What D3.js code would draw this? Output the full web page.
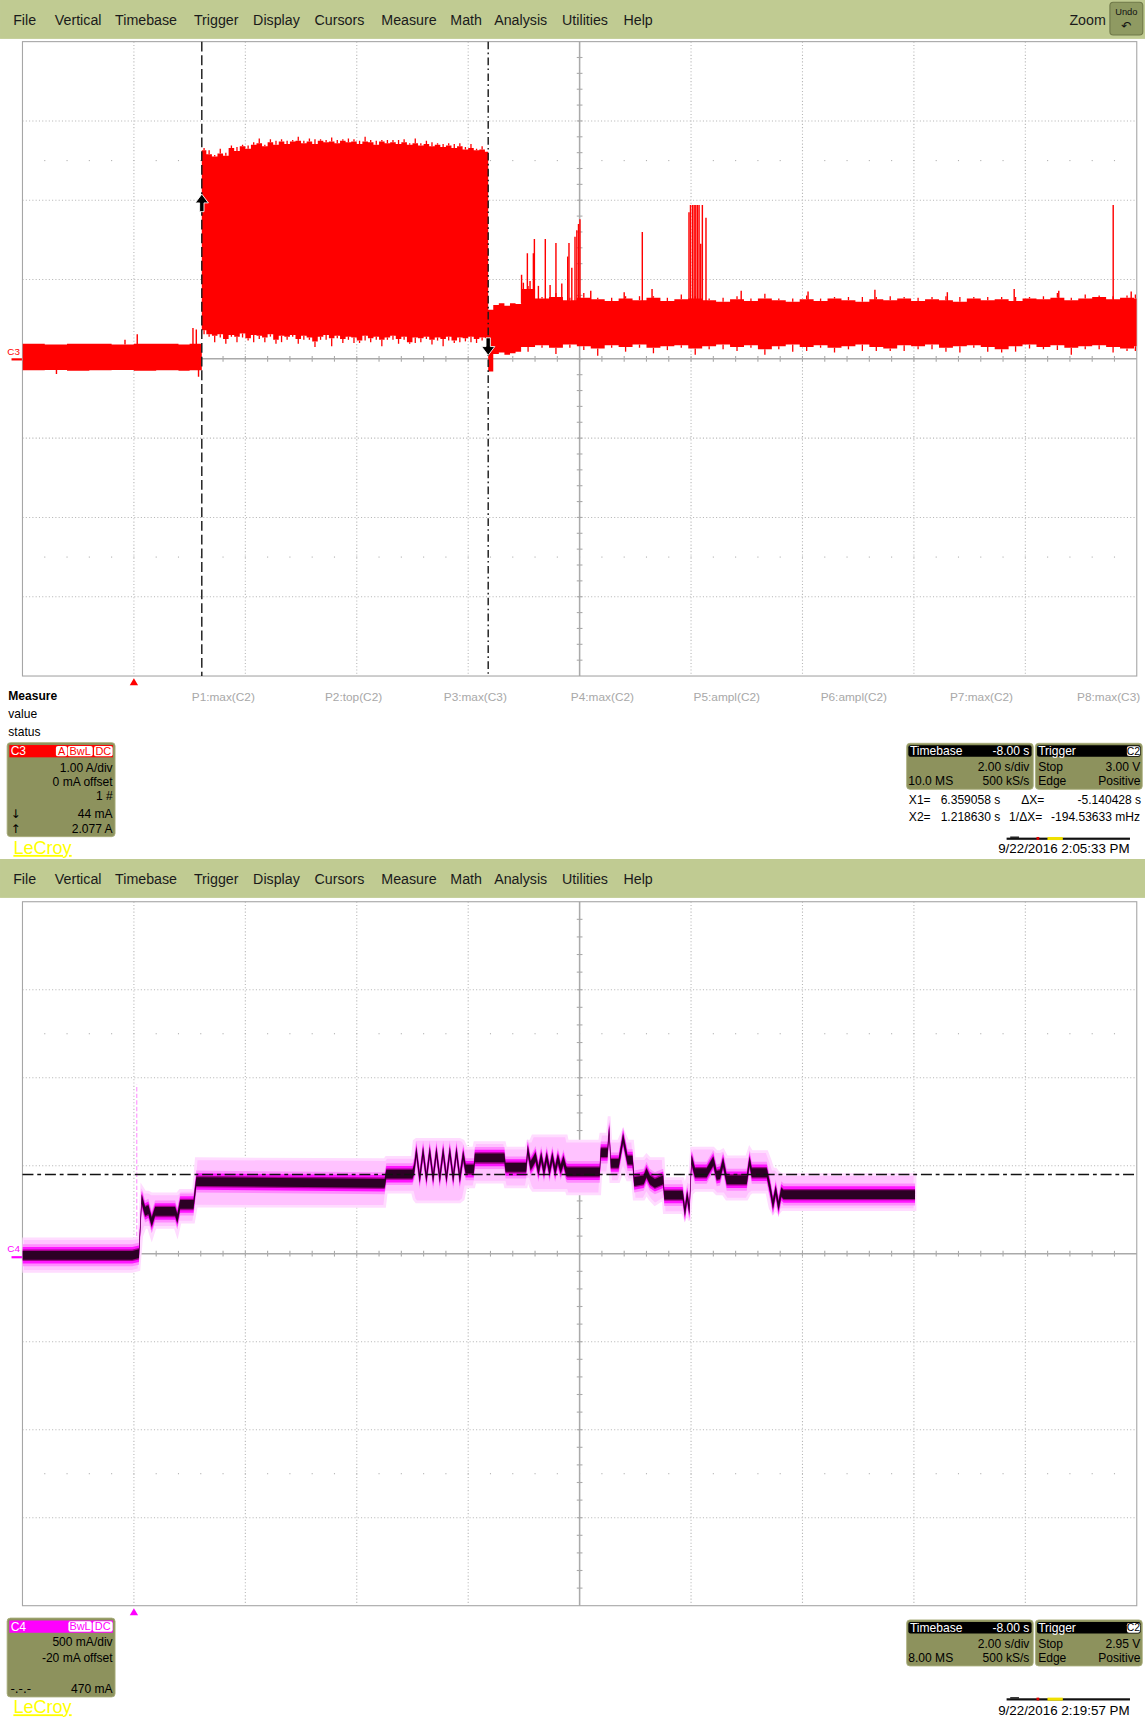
<!DOCTYPE html>
<html><head><meta charset="utf-8">
<script src="https://cdn.jsdelivr.net/npm/d3@7"></script>
<style>html,body{margin:0;padding:0;background:#fff;overflow:hidden}svg{display:block}</style>
</head><body><svg id="c"></svg>
<script>
// ================= DATA =================
const menuItems = ["File","Vertical","Timebase","Trigger","Display","Cursors","Measure","Math","Analysis","Utilities","Help"];
const measureParams = ["P1:max(C2)","P2:top(C2)","P3:max(C3)","P4:max(C2)","P5:ampl(C2)","P6:ampl(C2)","P7:max(C2)","P8:max(C3)"];
const measureRows = ["value","status"];

const timeDomain = [-2, 18];          // s : -8.00 s delay, 2.00 s/div, 10 div
const timeDivs = [-2,0,2,4,6,8,10,12,14,16,18];
const c3Domain = [-4, 4];             // A : 1.00 A/div, 0 mA offset
const c3Divs = [-4,-3,-2,-1,0,1,2,3,4];
const c4Domain = [-1.98, 2.02];       // A : 500 mA/div, -20 mA offset
const c4Divs = [-1.98,-1.48,-0.98,-0.48,0.02,0.52,1.02,1.52,2.02];
const cursorX1 = 6.359058, cursorX2 = 1.218630;
const cursorLo = 0.044, cursorHi = 2.077;
const c4TrigLevel = 0.47;
const triggerTime = 0;

// C3 envelope (A)
const c3aTime = [-2.0,-1.6,-1.2,-0.8,-0.4,0.0,0.4,0.8,1.0];
const c3aMax  = [0.19,0.18,0.19,0.19,0.18,0.19,0.19,0.18,0.19];
const c3aMin  = [-0.145,-0.14,-0.15,-0.145,-0.14,-0.15,-0.145,-0.15,-0.145];
const c3bTime = [1.2186,1.3,1.4,1.5,1.6,1.7,1.8,1.9,2.0,2.1,2.2,2.3,2.4,2.5,2.6,2.7,2.8,2.9,3.0,3.1,3.2,3.3,3.4,3.5,3.6,3.7,3.8,3.9,4.0,4.1,4.2,4.3,4.4,4.5,4.6,4.7,4.8,4.9,5.0,5.1,5.2,5.3,5.4,5.5,5.6,5.7,5.8,5.9,6.0,6.1,6.2,6.3];
const c3bMax  = [2.63,2.58,2.55,2.59,2.56,2.66,2.62,2.68,2.65,2.70,2.72,2.68,2.73,2.70,2.74,2.71,2.74,2.75,2.72,2.74,2.71,2.75,2.73,2.74,2.72,2.75,2.73,2.74,2.71,2.74,2.73,2.70,2.74,2.72,2.73,2.71,2.73,2.70,2.72,2.69,2.71,2.68,2.70,2.67,2.69,2.66,2.68,2.64,2.66,2.63,2.64,2.61];
const c3bMin  = [0.36,0.31,0.29,0.31,0.25,0.30,0.28,0.32,0.26,0.30,0.29,0.27,0.31,0.24,0.29,0.28,0.30,0.25,0.29,0.27,0.22,0.28,0.30,0.26,0.29,0.25,0.28,0.27,0.23,0.29,0.26,0.28,0.24,0.27,0.29,0.25,0.28,0.21,0.27,0.26,0.28,0.24,0.27,0.25,0.28,0.23,0.27,0.26,0.28,0.25,0.27,0.26];
// noise fringe (A) above the top / below the bottom of the band, one per sample interval
const c3bTopFringe = [0.03,0.05,0.02,0.06,0.04,0.03,0.05,0.02,0.04,0.03,0.06,0.02,0.04,0.05,0.03,0.04,0.02,0.05,0.03,0.04,0.06,0.02,0.03,0.05,0.04,0.02,0.05,0.03,0.04,0.06,0.03,0.05,0.02,0.04,0.03,0.05,0.04,0.02,0.06,0.03,0.04,0.05,0.02,0.04,0.03,0.05,0.04,0.03,0.05,0.02,0.04];
const c3bBotFringe = [0.05,0.03,0.08,0.04,0.06,0.02,0.07,0.05,0.03,0.09,0.04,0.06,0.03,0.05,0.08,0.04,0.02,0.06,0.05,0.03,0.07,0.04,0.06,0.10,0.03,0.05,0.04,0.07,0.03,0.06,0.05,0.04,0.08,0.03,0.05,0.06,0.04,0.02,0.07,0.05,0.03,0.06,0.04,0.09,0.05,0.03,0.06,0.04,0.07,0.05,0.04];
const c3cTime = [6.359,6.45,6.55,6.65,6.75,6.85];
const c3cMax  = [0.62,0.68,0.70,0.67,0.70,0.69];
const c3cMin  = [-0.16,0.06,0.08,0.05,0.07,0.09];
const c3dTime = [6.95,7.2,7.45,7.7,7.95,8.2,8.45,8.7,8.95,9.2,9.45,9.7,9.95,10.2,10.45,10.7,10.95,11.2,11.45,11.7,11.95,12.2,12.45,12.7,12.95,13.2,13.45,13.7,13.95,14.2,14.45,14.7,14.95,15.2,15.45,15.7,15.95,16.2,16.45,16.7,16.95,17.2,17.45,17.7,17.95,18.0];
const c3dMax  = [0.88,0.76,0.78,0.74,0.77,0.75,0.73,0.76,0.74,0.77,0.73,0.75,0.76,0.74,0.72,0.75,0.73,0.76,0.74,0.72,0.75,0.73,0.76,0.74,0.72,0.75,0.74,0.76,0.73,0.75,0.74,0.72,0.76,0.74,0.75,0.73,0.76,0.75,0.77,0.74,0.76,0.78,0.75,0.77,0.76,0.76];
const c3dMin  = [0.15,0.17,0.14,0.18,0.16,0.13,0.17,0.15,0.18,0.14,0.16,0.17,0.13,0.16,0.18,0.15,0.17,0.12,0.16,0.18,0.15,0.17,0.14,0.16,0.18,0.15,0.13,0.17,0.16,0.18,0.14,0.16,0.17,0.15,0.12,0.16,0.18,0.15,0.17,0.14,0.16,0.17,0.15,0.13,0.16,0.16];
const c3dTopFringe = [0.04,0.02,0.05,0.03,0.06,0.02,0.04,0.03,0.05,0.02,0.04,0.06,0.03,0.02,0.05,0.04,0.03,0.06,0.02,0.04,0.05,0.03,0.02,0.04,0.06,0.03,0.05,0.02,0.04,0.03,0.05,0.06,0.02,0.04,0.03,0.05,0.02,0.04,0.06,0.03,0.05,0.02,0.04,0.03,0.05];
const c3dBotFringe = [0.06,0.03,0.08,0.04,0.05,0.09,0.03,0.06,0.04,0.07,0.05,0.03,0.08,0.04,0.06,0.05,0.03,0.07,0.04,0.09,0.05,0.03,0.06,0.04,0.08,0.05,0.03,0.07,0.04,0.06,0.05,0.08,0.03,0.06,0.04,0.07,0.05,0.03,0.06,0.09,0.04,0.05,0.07,0.03,0.06];
// C3 glitches: time (s), from (A), to (A)
const c3SpikeTime = [-1.39,-0.16,0.06,1.06,1.12,1.16, 6.958,6.99,7.062,7.11,7.170,7.188,7.26,7.384,7.47,7.575,7.68,7.786,7.809,7.86,7.917,7.95,7.98,8.006,8.2,8.8,9.125,9.3, 9.963,9.99,10.026,10.056,10.085,10.115,10.144,10.174,10.203,10.268, 10.9,12.1,13.3,14.6,15.8,16.6,17.577,17.9];
const c3SpikeFrom = [-0.19,0.18,0.18,0.18,0.18,-0.225, 0.7,0.7,0.7,0.7,0.7,0.7,0.7,0.7,0.7,0.7,0.7,0.7,0.7,0.7,0.7,0.7,0.7,0.7,0.7,0.7,0.7,0.7, 0.7,0.7,0.7,0.7,0.7,0.7,0.7,0.7,0.7,0.7, 0.7,0.7,0.7,0.7,0.7,0.7,0.7,0.7];
const c3SpikeTo   = [-0.14,0.24,0.31,0.39,0.37,-0.14, 1.06,0.96,1.33,0.98,1.33,1.51,0.92,1.51,0.93,1.46,0.95,1.29,1.46,1.15,1.54,1.62,1.70,1.76,0.86,0.84,1.60,0.88, 1.85,1.94,1.94,1.94,1.94,1.94,1.94,1.45,1.94,1.78, 0.86,0.85,0.87,0.84,0.88,0.86,1.94,0.85];

// C4 persistence trace: time (s), most-frequent level, envelope top, envelope bottom (A)
const c4Time = [-2.00,-0.03,0.09,0.14,0.20,0.26,0.32,0.38,0.74,0.78,0.83,1.07,1.12,
  4.50,4.53,5.00,
  5.03,5.07,5.13,5.19,5.25,5.31,5.37,5.43,5.49,5.55,5.61,5.67,5.73,5.79,5.85,5.91,5.955,
  5.96,6.10,6.12,6.65,6.67,7.04,7.07,7.12,
  7.16,7.21,7.26,7.31,7.36,7.41,7.46,7.51,7.56,7.61,7.66,7.71,7.76,
  7.78,8.36,8.38,8.50,8.53,8.56,8.70,8.78,8.86,8.95,8.98,9.15,
  9.20,9.26,9.35,9.50,9.52,9.85,9.89,9.93,9.97,10.01,10.07,10.28,
  10.40,10.46,10.52,10.575,10.64,11.00,11.05,11.09,11.36,11.42,11.47,11.52,11.57,11.62,11.66,14.02];
const c4Mid = [0.011,0.011,0.02,0.33,0.26,0.27,0.20,0.26,0.26,0.22,0.30,0.30,0.43,
  0.42,0.472,0.472,
  0.50,0.60,0.45,0.60,0.45,0.60,0.45,0.60,0.45,0.60,0.45,0.60,0.45,0.60,0.45,0.58,0.50,
  0.50,0.50,0.564,0.564,0.51,0.51,0.61,0.52,
  0.54,0.57,0.49,0.57,0.49,0.57,0.49,0.57,0.49,0.56,0.50,0.55,0.49,
  0.485,0.485,0.595,0.595,0.72,0.533,0.533,0.676,0.552,0.552,0.43,0.44,
  0.48,0.44,0.42,0.44,0.353,0.353,0.26,0.35,0.27,0.554,0.48,0.48,
  0.546,0.465,0.47,0.539,0.44,0.44,0.546,0.48,0.48,0.39,0.30,0.38,0.29,0.37,0.356,0.356];
const c4Hi = [0.105,0.105,0.11,0.40,0.37,0.37,0.36,0.36,0.36,0.36,0.38,0.38,0.56,
  0.554,0.567,0.567,
  0.66,0.67,0.67,0.67,0.67,0.67,0.67,0.67,0.67,0.67,0.67,0.67,0.67,0.67,0.67,0.66,0.63,
  0.62,0.62,0.651,0.651,0.62,0.62,0.66,0.66,
  0.69,0.69,0.69,0.69,0.69,0.69,0.69,0.69,0.69,0.69,0.69,0.69,0.69,
  0.66,0.66,0.70,0.70,0.80,0.66,0.66,0.72,0.66,0.66,0.56,0.56,
  0.58,0.56,0.56,0.56,0.446,0.446,0.40,0.45,0.42,0.62,0.62,0.62,
  0.62,0.60,0.60,0.61,0.57,0.57,0.62,0.60,0.60,0.55,0.50,0.50,0.48,0.47,0.469,0.469];
const c4Lo = [-0.080,-0.080,-0.07,0.12,0.17,0.17,0.11,0.17,0.17,0.13,0.20,0.20,0.29,
  0.289,0.37,0.37,
  0.33,0.315,0.315,0.315,0.315,0.315,0.315,0.315,0.315,0.315,0.315,0.315,0.315,0.315,0.315,0.33,0.40,
  0.40,0.40,0.427,0.427,0.40,0.40,0.45,0.40,
  0.38,0.38,0.38,0.38,0.38,0.38,0.38,0.38,0.38,0.38,0.38,0.38,0.38,
  0.36,0.36,0.48,0.48,0.55,0.43,0.43,0.50,0.44,0.44,0.33,0.33,
  0.36,0.33,0.30,0.33,0.253,0.253,0.22,0.25,0.21,0.36,0.38,0.38,
  0.38,0.36,0.36,0.36,0.33,0.33,0.36,0.37,0.37,0.28,0.25,0.27,0.25,0.27,0.270,0.270];
const c4Glitch = {t:0.05, from:0.12, to:0.98};

// ================= DRAWING =================
const W = 1045, H = 1568;
const FONT = "'Liberation Sans', Arial, Helvetica, sans-serif";
const svg = d3.select("#c").attr("width",1145).attr("height",1718).attr("viewBox",`0 0 ${W} ${H}`)
  .style("font-family",FONT);

const MENU_BG = "#c0cb92", BOX = "#8d925d", BOXSTROKE = "#a9ae7b";
const P1 = {x0:20.5, x1:1037.5, y0:38, y1:617};
const P2 = {x0:20.5, x1:1037.5, y0:823, y1:1465.5};
const x = d3.scaleLinear().domain(timeDomain).range([P1.x0, P1.x1]);
const y1 = d3.scaleLinear().domain(c3Domain).range([P1.y1, P1.y0]);
const y2 = d3.scaleLinear().domain(c4Domain).range([P2.y1, P2.y0]);

function text(g, s, tx, ty, opt={}) {
  const t = g.append("text").attr("x",tx).attr("y",ty).text(s)
    .attr("font-size",opt.size||11).attr("fill",opt.fill||"#000");
  if (opt.anchor) t.attr("text-anchor",opt.anchor);
  if (opt.weight) t.attr("font-weight",opt.weight);
  if (opt.family) t.attr("font-family",opt.family);
  if (opt.deco) t.attr("text-decoration",opt.deco);
  return t;
}

const menuX = [12,50,105,177,231,287,348,411,451,513,569];
function drawMenu(y0, full) {
  const g = svg.append("g");
  g.append("rect").attr("x",0).attr("y",y0).attr("width",W).attr("height",35.5).attr("fill",MENU_BG);
  menuItems.forEach((m,i)=>text(g,m,menuX[i],y0+22.5,{size:13,fill:"#1a1a1a"}));
  if (full) {
    text(g,"Zoom",976,y0+23,{size:13,fill:"#1a1a1a"});
    g.append("rect").attr("x",1013).attr("y",y0+2).attr("width",30).attr("height",30).attr("rx",3)
      .attr("fill","#8f9a62").attr("stroke","#6f7848").attr("stroke-width",1);
    text(g,"Undo",1028,y0+13.5,{size:8.5,anchor:"middle",fill:"#111"});
    text(g,"\u21B6",1028,y0+27,{size:11,anchor:"middle",fill:"#111",family:"'DejaVu Sans'"});
  }
}

function drawGrid(P, yScale, yDivs) {
  const g = svg.append("g");
  const xc = x(8), yc = yScale(yDivs[4]);
  timeDivs.slice(1,-1).forEach(t=>{ if (t!==8) g.append("line").attr("x1",x(t)).attr("x2",x(t)).attr("y1",P.y0).attr("y2",P.y1)
      .attr("stroke","#b8b8b8").attr("stroke-width",1).attr("stroke-dasharray","1,2"); });
  yDivs.slice(1,-1).forEach((v,i)=>{ if (i!==3) g.append("line").attr("x1",P.x0).attr("x2",P.x1).attr("y1",yScale(v)).attr("y2",yScale(v))
      .attr("stroke","#b8b8b8").attr("stroke-width",1).attr("stroke-dasharray","1,2"); });
  const dv = yDivs[1]-yDivs[0];
  [yDivs[1]+dv*0.5, yDivs[6]+dv*0.5].forEach(v=>{
    d3.range(timeDomain[0]+0.4, timeDomain[1], 0.4).forEach(t=>{
      g.append("rect").attr("x",x(t)-0.5).attr("y",yScale(v)-0.5).attr("width",1).attr("height",1).attr("fill","#b0b0b0");
    });
  });
  g.append("line").attr("x1",P.x0).attr("x2",P.x1).attr("y1",yc).attr("y2",yc).attr("stroke","#aaaaaa").attr("stroke-width",1.4);
  g.append("line").attr("x1",xc).attr("x2",xc).attr("y1",P.y0).attr("y2",P.y1).attr("stroke","#aaaaaa").attr("stroke-width",1.4);
  d3.range(timeDomain[0]+0.4, timeDomain[1], 0.4).forEach(t=>{
    g.append("line").attr("x1",x(t)).attr("x2",x(t)).attr("y1",yc-2.6).attr("y2",yc+2.6).attr("stroke","#aaaaaa").attr("stroke-width",1);
  });
  d3.range(1,40).forEach(k=>{
    const v = yDivs[0] + k*dv/5;
    g.append("line").attr("x1",xc-2.6).attr("x2",xc+2.6).attr("y1",yScale(v)).attr("y2",yScale(v)).attr("stroke","#aaaaaa").attr("stroke-width",1);
  });
  g.append("rect").attr("x",P.x0).attr("y",P.y0).attr("width",P.x1-P.x0).attr("height",P.y1-P.y0)
    .attr("fill","none").attr("stroke","#a6a6a6").attr("stroke-width",1);
}

drawMenu(0, true);
drawMenu(784, false);
drawGrid(P1, y1, c3Divs);
drawGrid(P2, y2, c4Divs);

const defs = svg.append("defs");
defs.append("clipPath").attr("id","clip1").append("rect").attr("x",P1.x0).attr("y",P1.y0).attr("width",P1.x1-P1.x0).attr("height",P1.y1-P1.y0);
defs.append("clipPath").attr("id","clip2").append("rect").attr("x",P2.x0).attr("y",P2.y0).attr("width",P2.x1-P2.x0).attr("height",P2.y1-P2.y0);

// ---- C3 trace ----
function zipEnv(ts, hi, lo){ const n=Math.min(ts.length,hi.length,lo.length); return d3.range(n).map(i=>({t:ts[i],hi:hi[i],lo:lo[i]})); }
const c3Env = [].concat(zipEnv(c3aTime,c3aMax,c3aMin), zipEnv(c3bTime,c3bMax,c3bMin), zipEnv(c3cTime,c3cMax,c3cMin), zipEnv(c3dTime,c3dMax,c3dMin));
const g3 = svg.append("g").attr("clip-path","url(#clip1)");
g3.append("path").datum(c3Env)
  .attr("d", d3.area().x(d=>x(d.t)).y0(d=>y1(d.lo)).y1(d=>y1(d.hi)).curve(d3.curveStepAfter))
  .attr("fill","#ff0000");
function fringe(ts, base, add, sign){
  const n = Math.min(ts.length-1, add.length);
  for (let i=0;i<n;i++){
    const tm = (ts[i]+ts[i+1])/2;
    g3.append("line").attr("x1",x(tm)).attr("x2",x(tm)).attr("y1",y1(base[i])).attr("y2",y1(base[i]+sign*add[i]))
      .attr("stroke","#ff0000").attr("stroke-width",1.2);
  }
}
fringe(c3bTime, c3bMax, c3bTopFringe, 1);
fringe(c3bTime, c3bMin, c3bBotFringe, -1);
fringe(c3dTime, c3dMax, c3dTopFringe, 1);
fringe(c3dTime, c3dMin, c3dBotFringe, -1);
d3.range(Math.min(c3SpikeTime.length,c3SpikeFrom.length,c3SpikeTo.length)).forEach(i=>{
  g3.append("line").attr("x1",x(c3SpikeTime[i])).attr("x2",x(c3SpikeTime[i]))
    .attr("y1",y1(c3SpikeFrom[i])).attr("y2",y1(c3SpikeTo[i])).attr("stroke","#ff0000").attr("stroke-width",1.3);
});

// cursors
const gc = svg.append("g");
gc.append("line").attr("x1",x(cursorX2)).attr("x2",x(cursorX2)).attr("y1",P1.y0).attr("y2",P1.y1)
  .attr("stroke","#1a1a1a").attr("stroke-width",1.3).attr("stroke-dasharray","9,3.5");
gc.append("line").attr("x1",x(cursorX1)).attr("x2",x(cursorX1)).attr("y1",P1.y0).attr("y2",P1.y1)
  .attr("stroke","#1a1a1a").attr("stroke-width",1.3).attr("stroke-dasharray","7,3,1.5,3");
function arrow(cx, tipY, dir){ // dir -1 up, +1 down
  const s = -dir;
  const p = [[0,0],[-6,8*s],[-2,8*s],[-2,16*s],[2,16*s],[2,8*s],[6,8*s]];
  gc.append("path").attr("d","M"+p.map(q=>[cx+q[0],tipY+q[1]].join(",")).join("L")+"Z")
    .attr("fill","#000").attr("stroke","#fff").attr("stroke-width",0.8);
}
arrow(x(cursorX2), y1(cursorHi), -1);
arrow(x(cursorX1), y1(cursorLo), 1);

text(svg,"C3",6.7,324,{size:9,fill:"#ff0000"});
svg.append("line").attr("x1",10.5).attr("x2",20).attr("y1",y1(0)+0.5).attr("y2",y1(0)+0.5).attr("stroke","#ff0000").attr("stroke-width",2);

// ---- C4 trace ----
const n4 = Math.min(c4Time.length,c4Mid.length,c4Hi.length,c4Lo.length);
const c4 = d3.range(n4).map(i=>({t:c4Time[i],m:c4Mid[i],hi:c4Hi[i],lo:c4Lo[i]}));
const g4 = svg.append("g").attr("clip-path","url(#clip2)");
g4.append("line").attr("x1",x(c4Glitch.t)).attr("x2",x(c4Glitch.t)).attr("y1",y2(c4Glitch.from)).attr("y2",y2(c4Glitch.to))
  .attr("stroke","#ffa8ff").attr("stroke-width",1.3).attr("stroke-dasharray","4,2");
const envArea = d3.area().x(d=>x(d.t)).y0(d=>y2(d.lo)).y1(d=>y2(d.hi));
g4.append("path").datum(c4).attr("d",envArea).attr("fill","#ffc2ff").attr("stroke","#ffdcff").attr("stroke-width",2.5);
[[10,"#ff8cff"],[7.5,"#ff14ff"],[5.2,"#a4008f"],[4,"#2c0025"]].forEach(([w,c])=>{
  g4.append("path").datum(c4).attr("d",d3.area().x(d=>x(d.t)).y0(d=>y2(d.m)+w).y1(d=>y2(d.m)-w)).attr("fill",c);
});
svg.append("line").attr("x1",P2.x0).attr("x2",P2.x1).attr("y1",y2(c4TrigLevel)).attr("y2",y2(c4TrigLevel))
  .attr("stroke","#111").attr("stroke-width",1.3).attr("stroke-dasharray","10,3.5,3.5,3.5");
text(svg,"C4",6.7,1142.4,{size:9,fill:"#ff00ff"});
svg.append("line").attr("x1",10.5).attr("x2",20).attr("y1",y2(0)).attr("y2",y2(0)).attr("stroke","#ff00ff").attr("stroke-width",2);

function tri(yTop, col){ const cx=x(triggerTime);
  svg.append("path").attr("d",`M${cx},${yTop}L${cx-3.8},${yTop+6.5}L${cx+3.8},${yTop+6.5}Z`).attr("fill",col); }
tri(619, "#ff0000");
tri(1467.8, "#ff00ff");

// ---- Measure table ----
text(svg,"Measure",7.6,639,{size:11,weight:"bold"});
text(svg,measureRows[0],7.6,655.6,{size:11});
text(svg,measureRows[1],7.6,671.7,{size:11});
const pX = [175,296.6,405,521,633,749,867,983];
measureParams.forEach((p,i)=>text(svg,p,pX[i],639.5,{size:10.8,fill:"#a8a8a8"}));

// ---- channel boxes ----
function badge(g, bx, by, bw, label, col){
  g.append("rect").attr("x",bx).attr("y",by).attr("width",bw).attr("height",9.5).attr("rx",2).attr("fill","#fff");
  text(g,label,bx+bw/2,by+8.3,{size:10,fill:col,anchor:"middle"});
}
function chanBox(y0, h, col, name, badges, rows){
  const g = svg.append("g");
  g.append("rect").attr("x",6.5).attr("y",y0).attr("width",98.5).attr("height",h).attr("rx",3).attr("fill",BOX).attr("stroke",BOXSTROKE).attr("stroke-width",0.8);
  g.append("rect").attr("x",8.5).attr("y",y0+2.2).attr("width",94.5).attr("height",11.2).attr("fill",col);
  text(g,name,9.7,y0+11.5,{size:11,fill:"#fff"});
  badges.forEach(b=>badge(g,b[0],y0+3,b[1],b[2],col));
  rows.forEach(r=>{ if (r.l) text(g,r.l,9.5,r.y,{size:11,family:"'DejaVu Sans', "+FONT}); text(g,r.r,102.8,r.y,{size:11,anchor:"end"}); });
}
chanBox(677.8, 85.8, "#ff0000", "C3", [[51,10.3,"A"],[61.8,22.8,"BwL"],[85.8,17,"DC"]],
  [{r:"1.00 A/div",y:704.3},{r:"0 mA offset",y:717.5},{r:"1 #",y:730.5},{l:"\u2193",r:"44 mA",y:746.9},{l:"\u2191",r:"2.077 A",y:760.6}]);
chanBox(1476.8, 72, "#ff00ff", "C4", [[62.4,21.3,"BwL"],[84.6,18.2,"DC"]],
  [{r:"500 mA/div",y:1502.2},{r:"-20 mA offset",y:1516.5},{l:"-.-.-",r:"470 mA",y:1545.4}]);

function tbBox(y0, tb, sdiv, ms, rate, trig, lvl){
  const g = svg.append("g");
  g.append("rect").attr("x",827.5).attr("y",y0).attr("width",115.5).attr("height",42).attr("rx",3).attr("fill",BOX).attr("stroke",BOXSTROKE).attr("stroke-width",0.8);
  g.append("rect").attr("x",829).attr("y",y0+1.8).attr("width",112.5).attr("height",10.5).attr("rx",2).attr("fill","#000");
  text(g,"Timebase",830.5,y0+10.7,{size:11,fill:"#fff"});
  text(g,tb,939.5,y0+10.7,{size:11,fill:"#fff",anchor:"end"});
  text(g,sdiv,939.5,y0+25.2,{size:11,anchor:"end"});
  text(g,ms,829,y0+38,{size:11});
  text(g,rate,939.5,y0+38,{size:11,anchor:"end"});
  g.append("rect").attr("x",945).attr("y",y0).attr("width",97.5).attr("height",42).attr("rx",3).attr("fill",BOX).attr("stroke",BOXSTROKE).attr("stroke-width",0.8);
  g.append("rect").attr("x",946.5).attr("y",y0+1.8).attr("width",94.5).attr("height",10.5).attr("rx",2).attr("fill","#000");
  text(g,"Trigger",947.5,y0+10.7,{size:11,fill:"#fff"});
  g.append("rect").attr("x",1028.5).attr("y",y0+2.8).attr("width",12).attr("height",8.8).attr("rx",2).attr("fill","#fff");
  text(g,trig,1034.5,y0+10.5,{size:9.5,anchor:"middle"});
  text(g,"Stop",947.5,y0+25.2,{size:11});
  text(g,lvl,1040.8,y0+25.2,{size:11,anchor:"end"});
  text(g,"Edge",947.5,y0+38,{size:11});
  text(g,"Positive",1040.8,y0+38,{size:11,anchor:"end"});
}
tbBox(678.4, "-8.00 s", "2.00 s/div", "10.0 MS", "500 kS/s", "C2", "3.00 V");
tbBox(1478.5, "-8.00 s", "2.00 s/div", "8.00 MS", "500 kS/s", "C2", "2.95 V");

text(svg,"X1=",829.5,733.8,{size:11}); text(svg,"6.359058 s",858.5,733.8,{size:11});
text(svg,"\u0394X=",932,733.8,{size:11}); text(svg,"-5.140428 s",1041.5,733.8,{size:11,anchor:"end"});
text(svg,"X2=",829.5,749.3,{size:11}); text(svg,"1.218630 s",858.5,749.3,{size:11});
text(svg,"1/\u0394X=",921,749.3,{size:11}); text(svg,"-194.53633 mHz",1040.5,749.3,{size:11,anchor:"end"});

function dateBar(yb, yt, s){
  svg.append("rect").attr("x",918.7).attr("y",yb-1).attr("width",112.6).attr("height",2).attr("fill","#111");
  svg.append("rect").attr("x",922).attr("y",yb-2).attr("width",8).attr("height",1.2).attr("fill","#111");
  svg.append("rect").attr("x",946).attr("y",yb-1.6).attr("width",2.5).attr("height",2.6).attr("fill","#e00000");
  svg.append("rect").attr("x",956).attr("y",yb-1.6).attr("width",14).attr("height",2.8).attr("fill","#f0e000");
  text(svg,s,911,yt,{size:12.2});
}
dateBar(765.5, 778.8, "9/22/2016 2:05:33 PM");
dateBar(1551, 1565.2, "9/22/2016 2:19:57 PM");

text(svg,"LeCroy",12.2,779.4,{size:16.5,fill:"#ffff00",deco:"underline"});
text(svg,"LeCroy",12.2,1563.7,{size:16.5,fill:"#ffff00",deco:"underline"});
</script></body></html>
